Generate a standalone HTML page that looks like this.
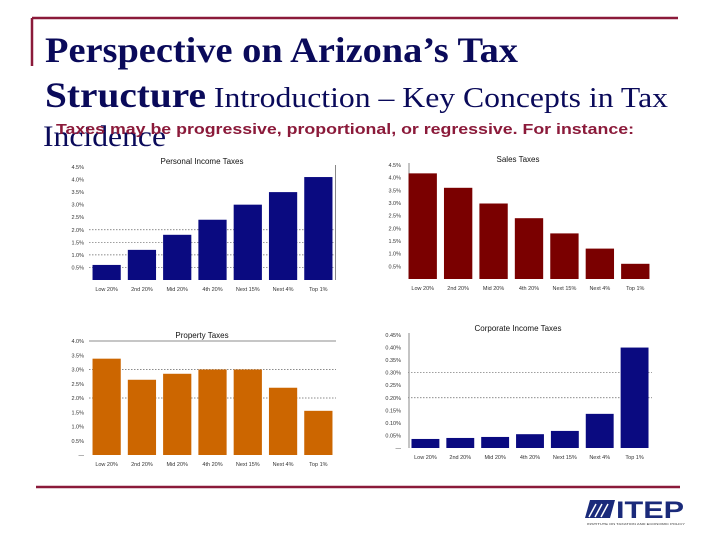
<!DOCTYPE html>
<html><head><meta charset="utf-8"><style>
body{margin:0;background:#fff}
svg{display:block}
.ax{font-family:"Liberation Sans",sans-serif;font-size:5.5px;fill:#333}
.ct{font-family:"Liberation Sans",sans-serif;font-size:8px;fill:#111}
</style></head><body>
<svg id="s" width="720" height="540" viewBox="0 0 720 540" xmlns="http://www.w3.org/2000/svg">
<line x1="32" y1="18" x2="678" y2="18" stroke="#8b1a3a" stroke-width="2.5"/>
<line x1="32" y1="18" x2="32" y2="66" stroke="#8b1a3a" stroke-width="2.5"/>
<text x="45" y="62" font-family="Liberation Serif,serif" font-weight="bold" font-size="36" fill="#0a0a5a" textLength="473" lengthAdjust="spacingAndGlyphs">Perspective on Arizona’s Tax</text>
<text x="45" y="107" font-family="Liberation Serif,serif" font-size="29" fill="#0a0a5a" textLength="623" lengthAdjust="spacingAndGlyphs"><tspan font-weight="bold" font-size="36">Structure</tspan> Introduction – Key Concepts in Tax</text>
<text x="43" y="146" font-family="Liberation Serif,serif" font-size="30" fill="#0a0a5a" textLength="123" lengthAdjust="spacingAndGlyphs">Incidence</text>
<text x="56" y="134" font-family="Liberation Sans,sans-serif" font-weight="bold" font-size="15" fill="#8b1a3a" textLength="578" lengthAdjust="spacingAndGlyphs">Taxes may be progressive, proportional, or regressive.  For instance:</text>
<line x1="36" y1="487" x2="680" y2="487" stroke="#8b1a3a" stroke-width="2.5"/>
<g>
<polygon points="590,500 615,500 610,518 585,518" fill="#1a2a7a"/>
<line x1="589" y1="517" x2="596" y2="504" stroke="#fff" stroke-width="1.5"/>
<line x1="595" y1="517" x2="602" y2="504" stroke="#fff" stroke-width="1.5"/>
<line x1="601" y1="517" x2="608" y2="504" stroke="#fff" stroke-width="1.5"/>
<text x="616" y="518" font-family="Liberation Sans,sans-serif" font-weight="bold" font-size="24" fill="#1a2a7a" textLength="68" lengthAdjust="spacingAndGlyphs">ITEP</text>
<text x="587" y="525" font-family="Liberation Sans,sans-serif" font-size="3" fill="#333" textLength="98" lengthAdjust="spacingAndGlyphs">INSTITUTE ON TAXATION AND ECONOMIC POLICY</text>
</g>
<g id="charts"></g>
</svg>
<script>
const categories=["Low 20%","2nd 20%","Mid 20%","4th 20%","Next 15%","Next 4%","Top 1%"];
const pitValues=[0.6,1.2,1.8,2.4,3.0,3.5,4.1];
const salesValues=[4.17,3.6,2.98,2.4,1.8,1.2,0.6];
const propValues=[3.38,2.64,2.85,3.0,3.0,2.36,1.55];
const corpValues=[0.036,0.04,0.044,0.055,0.068,0.136,0.40];
const pctTicks=[0.5,1.0,1.5,2.0,2.5,3.0,3.5,4.0,4.5];
const propTicks=[0.5,1.0,1.5,2.0,2.5,3.0,3.5,4.0];
const corpTicks=[0.05,0.10,0.15,0.20,0.25,0.30,0.35,0.40,0.45];
const NS="http://www.w3.org/2000/svg";
const root=document.getElementById('charts');
function mk(t,a,p){const e=document.createElementNS(NS,t);for(const k in a)e.setAttribute(k,a[k]);(p||root).appendChild(e);return e;}
function chart(o){
  const g=mk('g',{});
  
  
  const y=v=>o.y0-(v/o.max)*(o.y0-o.yTop);
  const step=(o.x1-o.x0)/categories.length;
  const tt=mk('text',{x:o.tx,y:o.ty,'text-anchor':'middle',class:'ct'},g);
  tt.textContent=o.title;
  
  
  o.ticks.forEach((t,i)=>{
    const lb=mk('text',{x:o.lx,y:y(t)+2,'text-anchor':'end',class:'ax'},g);
    lb.textContent=t.toFixed(o.dec)+'%';
    
    
    if(o.grid.includes(t)){
      const gl=mk('line',{x1:o.x0,x2:o.x1,y1:y(t),y2:y(t),stroke:'#666','stroke-width':0.7,'stroke-dasharray':o.solid===t?'':'1.5,1.5'},g);
      
      
    }
  });
  if(o.zero){const z=mk('text',{x:o.lx,y:o.y0+2,'text-anchor':'end',class:'ax'},g);z.textContent='—';
    
    }
  if(o.axis){const a=mk('line',{x1:o.axis,x2:o.axis,y1:o.yTop-2,y2:o.y0,stroke:'#888','stroke-width':1},g);
    
    }
  o.values.forEach((v,i)=>{
    const bx=o.x0+i*step+step*0.1;
    const r=mk('rect',{x:bx,y:y(v),width:step*0.8,height:o.y0-y(v),fill:o.color},g);
    
    
    const c=mk('text',{x:bx+step*0.4,y:o.y0+11,'text-anchor':'middle',class:'ax'},g);
    c.textContent=categories[i];
    
    
  });
}
chart({name:'personal-income-taxes-chart',title:'Personal Income Taxes',tx:202,ty:164,values:pitValues,ticks:pctTicks,dec:1,max:4.5,y0:280,yTop:167,x0:89,x1:336,lx:84,color:'#0a0a80',grid:[0.5,1.0,1.5,2.0],axis:335.5});
chart({name:'sales-taxes-chart',title:'Sales Taxes',tx:518,ty:162,values:salesValues,ticks:pctTicks,dec:1,max:4.5,y0:279,yTop:165,x0:405,x1:653,lx:401,color:'#7a0000',grid:[],axis:409});
chart({name:'property-taxes-chart',title:'Property Taxes',tx:202,ty:338,values:propValues,ticks:propTicks,dec:1,max:4.0,y0:455,yTop:341,x0:89,x1:336,lx:84,color:'#cc6600',grid:[2.0,3.0,4.0],solid:4.0,zero:true});
chart({name:'corporate-income-taxes-chart',title:'Corporate Income Taxes',tx:518,ty:331,values:corpValues,ticks:corpTicks,dec:2,max:0.45,y0:448,yTop:335,x0:408,x1:652,lx:401,color:'#0a0a80',grid:[0.20,0.30],zero:true,axis:409});
</script>
</body></html>
